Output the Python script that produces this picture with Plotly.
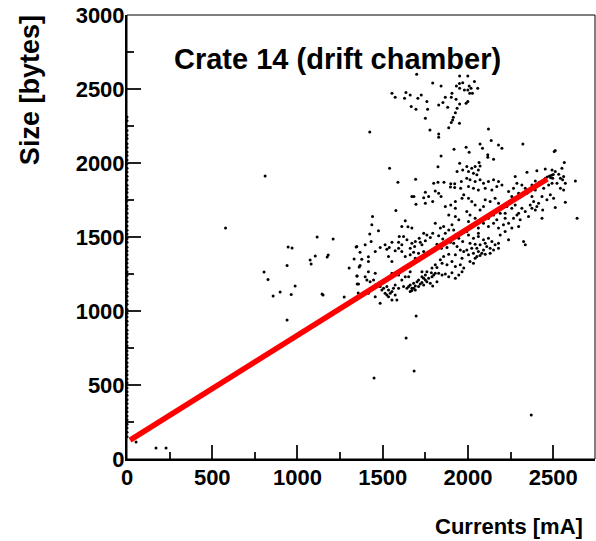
import plotly.graph_objects as go

# ---- data (current [mA], size [bytes]) ----
zero_current_sizes = [2310, 2285, 2250, 2220, 2190, 2165, 2130, 2105, 2075, 2050, 2020, 1995,
                      1965, 1940, 1910, 1885, 1850, 1825, 1800, 1770, 1745, 1710, 1690, 1660,
                      1630, 1605, 1575, 1545, 1520, 1490, 1465, 1430, 1405, 1380, 1350, 1325,
                      1295, 1265, 1240, 1210, 1185, 1150, 1125, 1100, 1070, 1045, 1010, 985,
                      960, 930, 905, 870, 845, 820, 790, 765, 730, 705, 680, 650, 625, 595,
                      570, 540, 515, 480, 455, 430, 400, 375, 345, 320, 290, 265, 235, 210,
                      180, 150]

outliers = [(53, 115), (170, 74), (229, 74), (810, 1912), (578, 1561), (945, 1432), (968, 1426),
            (939, 1308), (804, 1264), (827, 1213), (857, 1101), (898, 1128), (963, 1112),
            (986, 1169), (939, 939), (1115, 1500), (1209, 1486), (1104, 1372), (1174, 1365),
            (1180, 1378), (1074, 1345), (1080, 1318), (1344, 1432), (1332, 1351), (1303, 1291),
            (1362, 1298), (1350, 1236), (1350, 1182), (1356, 1122), (1150, 1108), (1274, 1095),
            (1268, 1034), (1144, 1115), (1696, 966), (1637, 818), (1684, 595), (1449, 547),
            (2371, 297), (2640, 1627), (2630, 1879), (1424, 2210)]

upper_cluster = [(1699, 2599), (1793, 2541), (1842, 2520), (1951, 2588), (1950, 2538), (1969, 2543),
                 (1932, 2520), (1951, 2505), (1979, 2493), (1554, 2471), (1573, 2444), (1636, 2476),
                 (1661, 2460), (1628, 2437), (1706, 2437), (1726, 2460), (1759, 2415), (1667, 2381),
                 (1695, 2363), (1763, 2363), (1828, 2392), (1853, 2408), (1867, 2444), (1902, 2444),
                 (1906, 2471), (1930, 2430), (1951, 2399), (1881, 2376), (1936, 2370), (1926, 2340),
                 (1914, 2309), (1910, 2291), (1902, 2273), (1950, 2268), (1887, 2239), (1750, 2302),
                 (1777, 2223), (1828, 2196), (1828, 2174), (1918, 2093), (1842, 2048), (1951, 1998),
                 (1999, 2588), (2038, 2550), (2007, 2520), (2018, 2505), (1999, 2493), (2010, 2471),
                 (2026, 2471), (2057, 2505), (1999, 2415), (1989, 2404), (2120, 2230), (2136, 2152),
                 (2071, 2129), (2085, 2100), (1989, 2106), (2007, 2073), (2179, 2122), (2199, 2100),
                 (2322, 2129), (2512, 2084), (2506, 2077), (2116, 2055), (2116, 2039), (2150, 2025),
                 (2065, 2003), (2565, 2003)]

band_left = [(1540, 1965), (1824, 1974), (1936, 1942), (1969, 1953), (1589, 1870), (1693, 1890),
             (1799, 1863), (1824, 1870), (1859, 1870), (1899, 1859), (1922, 1859), (1961, 1875),
             (1897, 1838), (1922, 1834), (1957, 1829), (1671, 1773), (1683, 1773), (1750, 1802),
             (1740, 1766), (1769, 1773), (1808, 1811), (1828, 1796), (1842, 1773), (1695, 1722),
             (1750, 1728), (1793, 1740), (1867, 1706), (1899, 1717), (1926, 1740), (1965, 1762),
             (1975, 1785), (1926, 1695), (1577, 1679), (1440, 1638), (1436, 1582), (1424, 1521),
             (1475, 1542), (1432, 1470), (1367, 1397), (1377, 1350), (1416, 1366), (1485, 1429),
             (1524, 1418), (1538, 1429), (1573, 1407), (1597, 1503), (1632, 1609), (1612, 1571),
             (1648, 1569), (1671, 1560), (1622, 1503), (1642, 1481), (1671, 1458), (1691, 1470),
             (1714, 1492), (1720, 1465), (1730, 1447), (1750, 1474), (1740, 1526), (1759, 1514),
             (1779, 1496), (1793, 1526), (1808, 1593), (1838, 1560), (1857, 1571), (1887, 1548),
             (1906, 1582), (1916, 1548), (1926, 1514), (1946, 1492), (1961, 1526), (1969, 1470),
             (1867, 1526), (1828, 1508), (1852, 1487), (1818, 1451), (1844, 1424), (1877, 1429),
             (1897, 1465), (1916, 1458), (1936, 1436), (1955, 1413), (1975, 1402), (1965, 1357),
             (1926, 1380), (1906, 1335), (1887, 1384), (1857, 1368), (1838, 1346), (1808, 1312),
             (1789, 1290), (1818, 1294), (1848, 1323), (1877, 1312), (1926, 1301), (1955, 1312),
             (1975, 1290), (1759, 1380), (1740, 1402), (1710, 1391), (1691, 1357), (1681, 1397),
             (1661, 1380), (1632, 1368), (1612, 1402), (1593, 1424), (1554, 1335), (1534, 1368),
             (1652, 1312), (1514, 1447), (1593, 1465), (1554, 1465), (1661, 1424), (1687, 1436),
             (1612, 1447), (1456, 1402), (1397, 1447), (1348, 1436), (1416, 1335), (1367, 1307),
             (1926, 1638), (1946, 1616), (1887, 1649)]

band_right = [(1993, 1976), (2022, 1965), (2042, 1976), (2071, 1980), (2003, 1942), (2032, 1931),
              (2052, 1920), (2061, 1953), (1993, 1897), (2012, 1886), (2042, 1875), (2071, 1886),
              (2091, 1863), (2003, 1841), (2032, 1829), (2061, 1818), (2101, 1829), (2120, 1875),
              (2150, 1886), (2179, 1875), (2169, 1841), (2199, 1852), (2140, 1818),
              (2346, 1938), (2404, 1947), (2453, 1960), (2493, 1953), (2512, 1942), (2532, 1924),
              (2551, 1965), (2561, 1908), (2542, 1897), (2555, 1886), (2571, 1863), (2493, 1863),
              (2473, 1852), (2444, 1829), (2418, 1870), (2395, 1879), (2375, 1852), (2395, 1818),
              (2453, 1897), (2497, 1897), (2522, 1863), (2542, 1829), (2561, 1818), (2512, 1699),
              (2571, 1735), (2502, 1762), (2483, 1785), (2463, 1751), (2434, 1773), (2414, 1728),
              (2438, 1683), (2395, 1683), (2365, 1717), (2375, 1773), (2346, 1796), (2336, 1829),
              (2316, 1852), (2287, 1863), (2267, 1829), (2297, 1796), (2257, 1773), (2238, 1807),
              (2277, 1908), (2465, 1905), (2478, 1912), (2490, 1918), (2500, 1922), (2485, 1900),
              (2003, 1762), (2022, 1740), (2042, 1717), (1993, 1672), (2012, 1649), (2042, 1627),
              (2071, 1683), (2091, 1706), (2101, 1751), (2130, 1740), (2159, 1762), (2179, 1728),
              (2199, 1695), (2218, 1661), (2150, 1649), (2120, 1627), (2169, 1616), (2189, 1661),
              (2228, 1706), (2257, 1695), (2277, 1717), (2297, 1661), (2316, 1695), (2336, 1672),
              (2355, 1638), (2375, 1695), (2385, 1740), (2404, 1706), (2434, 1627), (2287, 1649),
              (2267, 1627), (2306, 1616), (2238, 1593), (2208, 1582), (2179, 1560), (2150, 1593),
              (2120, 1571), (2091, 1593), (2061, 1560), (2032, 1582), (2003, 1604), (1993, 1537),
              (2218, 1627),
              (2003, 1514), (2032, 1492), (2061, 1503), (2091, 1481), (2120, 1492), (2140, 1470),
              (2101, 1458), (2071, 1447), (2042, 1451), (2012, 1458), (2110, 1436), (2130, 1424),
              (2159, 1447), (2179, 1458), (2150, 1413), (2091, 1413), (2061, 1402), (2032, 1391),
              (2003, 1380), (2042, 1357), (2071, 1375), (2101, 1384), (2130, 1391), (2179, 1424),
              (2022, 1424), (1993, 1413), (2052, 1424), (2012, 1335), (2052, 1368), (2081, 1391),
              (2032, 1323), (2189, 1514), (2238, 1481), (2336, 1447), (2326, 1470), (2218, 1537),
              (2257, 1560), (2297, 1571), (2061, 1526)]

low_cluster = [(1652, 1165), (1671, 1153), (1661, 1176), (1681, 1187), (1691, 1169), (1701, 1198),
               (1710, 1210), (1720, 1183), (1730, 1192), (1740, 1176), (1750, 1210), (1759, 1198),
               (1769, 1221), (1779, 1187), (1789, 1232), (1799, 1243), (1808, 1255), (1785, 1259),
               (1750, 1243), (1730, 1232), (1710, 1165), (1681, 1153), (1671, 1138), (1691, 1142),
               (1642, 1153), (1661, 1131), (1730, 1266), (1759, 1266), (1828, 1255), (1848, 1243),
               (1867, 1250), (1906, 1259), (1926, 1221), (1946, 1243), (1965, 1266), (1887, 1232),
               (1818, 1198), (1793, 1169), (1740, 1221),
               (1505, 1153), (1524, 1165), (1534, 1142), (1544, 1120), (1554, 1131), (1563, 1153),
               (1573, 1108), (1514, 1120), (1524, 1108), (1534, 1097), (1554, 1075), (1583, 1075),
               (1495, 1142), (1485, 1165), (1475, 1187), (1573, 1176), (1593, 1153), (1612, 1210),
               (1622, 1165), (1632, 1232), (1593, 1243), (1554, 1255), (1534, 1221), (1652, 1232),
               (1661, 1266), (1456, 1255), (1446, 1210), (1416, 1266), (1397, 1232), (1407, 1210),
               (1426, 1198), (1358, 1183), (1348, 1237), (1456, 1097), (1485, 1052), (1416, 1120),
               (1436, 1153), (1456, 1176)]

fit_current = [18, 2465]
fit_size = [128, 1892]

# ---- assemble ----
all_pts = outliers + upper_cluster + band_left + band_right + low_cluster
cur = [0 for _ in zero_current_sizes] + [p[0] for p in all_pts]
siz = list(zero_current_sizes) + [p[1] for p in all_pts]

FONT = "Liberation Sans, Arial, Helvetica, sans-serif"

fig = go.Figure()
fig.add_trace(go.Scatter(x=cur, y=siz, mode="markers",
                         marker=dict(size=3, color="black", line=dict(width=0)),
                         cliponaxis=False, hoverinfo="skip", showlegend=False))
fig.add_trace(go.Scatter(x=fit_current, y=fit_size, mode="lines",
                         line=dict(color="#ff0000", width=5.5),
                         hoverinfo="skip", showlegend=False))

axis_common = dict(showline=True, linecolor="black", linewidth=2, mirror=False,
                   ticks="inside", ticklen=14, tickwidth=1.5, tickcolor="#222",
                   showgrid=False, zeroline=False,
                   tickfont=dict(family=FONT, size=22, color="black", weight="bold"))

fig.update_xaxes(range=[0, 2745], tickvals=[0, 500, 1000, 1500, 2000, 2500],
                 ticktext=["0", "500", "1000", "1500", "2000", "2500"],
                 minor=dict(ticks="inside", ticklen=7, tickwidth=1.5, tickcolor="#222",
                            tickvals=[250, 750, 1250, 1750, 2250]),
                 ticklabelstandoff=-2, **axis_common)
fig.update_yaxes(range=[0, 3000], tickvals=[0, 500, 1000, 1500, 2000, 2500, 3000],
                 ticktext=["0", "500", "1000", "1500", "2000", "2500", "3000"],
                 minor=dict(ticks="inside", ticklen=7, tickwidth=1.5, tickcolor="#222",
                            tickvals=[250, 750, 1250, 1750, 2250, 2750]),
                 ticklabelstandoff=-4, **axis_common)

fig.add_shape(type="rect", xref="paper", yref="paper", x0=0, y0=0, x1=1, y1=1,
              line=dict(color="black", width=1), layer="above")

fig.add_annotation(text="Crate 14 (drift chamber)", xref="paper", yref="paper",
                   x=0.4498, y=0.9009, xanchor="center", yanchor="middle", showarrow=False,
                   font=dict(family=FONT, size=29, color="black", weight="bold"))
fig.add_annotation(text="Currents [mA]", xref="paper", yref="paper",
                   x=0.9786, y=-0.153, xanchor="right", yanchor="middle", showarrow=False,
                   font=dict(family=FONT, size=22, color="black", weight="bold"))
fig.add_annotation(text="Size [bytes]", xref="paper", yref="paper",
                   x=-0.207, y=1.0045, xanchor="center", yanchor="top", textangle=-90,
                   showarrow=False,
                   font=dict(family=FONT, size=27, color="black", weight="bold"))

fig.update_layout(width=596, height=541, margin=dict(l=127, r=1, t=15, b=82),
                  paper_bgcolor="white", plot_bgcolor="white")

fig.write_html("out.html")
